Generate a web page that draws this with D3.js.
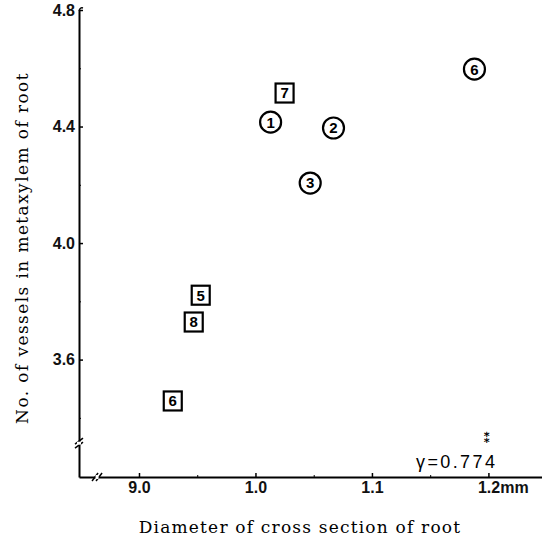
<!DOCTYPE html>
<html>
<head>
<meta charset="utf-8">
<script src="https://cdn.jsdelivr.net/npm/d3@7"></script>
<style>
  body { margin: 0; background: #fff; }
  svg { display: block; }
  .tick text { font-family: "Liberation Sans", Arial, sans-serif; font-size: 16px; font-weight: bold; fill: #111; }
</style>
</head>
<body>
<script>
    "use strict";
    const width = 542;
    const height = 541;

    // data
    const pointIds = ["1", "2", "3", "6", "7", "5", "8", "6"];
    const pointShapes = ["circle", "circle", "circle", "circle", "square", "square", "square", "square"];
    const diameters = [1.013, 1.067, 1.047, 1.188, 1.025, 0.953, 0.947, 0.929];
    const vessels = [4.415, 4.395, 4.206, 4.597, 4.515, 3.821, 3.729, 3.458];

    const xTicks = [0.9, 1.0, 1.1, 1.2];
    const xTickLabels = ["9.0", "1.0", "1.1", "1.2mm"];
    const xMinor = [0.95, 1.05, 1.15];
    const yTicks = [3.6, 4.0, 4.4, 4.8];
    const yTickLabels = ["3.6", "4.0", "4.4", "4.8"];
    const yMinor = [3.4, 3.8, 4.2, 4.6];
    const xBreak = 0.864;
    const yBreak = 3.313;

    const svg = d3.select("body").append("svg")
        .attr("width", width).attr("height", height);

    const xScale = d3.scaleLinear().domain([0.8485, 1.246]).range([79, 542]);
    const yScale = d3.scaleLinear().domain([3.197, 4.8]).range([477, 10]);
    const x0 = xScale(0.8485);
    const y0 = yScale(3.197);

    // x axis
    let xAxis = d3.axisBottom(xScale).tickValues(xTicks)
        .tickSizeInner(-4).tickSizeOuter(0).tickPadding(5)
        .tickFormat((d, i) => xTickLabels[i]);
    let gx = svg.append("g").attr("transform", "translate(0," + y0 + ")").call(xAxis);
    gx.select(".domain").attr("stroke-width", 2);
    gx.selectAll(".tick line").attr("stroke-width", 1.5);
    gx.selectAll(".tick text").filter((d, i) => i === 3)
        .attr("text-anchor", "start").attr("x", -11);
    let xMinorAxis = d3.axisBottom(xScale).tickValues(xMinor)
        .tickSizeInner(-2).tickSizeOuter(0).tickFormat("");
    svg.append("g").attr("transform", "translate(0," + y0 + ")").call(xMinorAxis)
        .select(".domain").remove();

    // y axis
    let yAxis = d3.axisLeft(yScale).tickValues(yTicks)
        .tickSizeInner(-4).tickSizeOuter(0).tickPadding(4)
        .tickFormat((d, i) => yTickLabels[i]);
    let gy = svg.append("g").attr("transform", "translate(" + x0 + ",0)").call(yAxis);
    gy.select(".domain").attr("stroke-width", 2);
    gy.selectAll(".tick line").attr("stroke-width", 1.5);
    let yMinorAxis = d3.axisLeft(yScale).tickValues(yMinor)
        .tickSizeInner(-2).tickSizeOuter(0).tickFormat("");
    svg.append("g").attr("transform", "translate(" + x0 + ",0)").call(yMinorAxis)
        .select(".domain").remove();

    // hook at the top of the y axis
    svg.append("path")
        .attr("d", "M" + x0 + "," + (yScale(4.8) + 1) + " q1,-4 4,-3")
        .attr("fill", "none").attr("stroke", "#000").attr("stroke-width", 1.5);

    // axis breaks
    const by = yScale(yBreak);
    [-2, 2].forEach(off => {
        svg.append("line")
            .attr("x1", x0 - 4).attr("y1", by + off + 3)
            .attr("x2", x0 + 4).attr("y2", by + off - 3)
            .attr("stroke", "#000").attr("stroke-width", 1.5);
    });
    svg.append("rect").attr("x", x0 - 2).attr("y", by - 1.5).attr("width", 4).attr("height", 3)
        .attr("fill", "#fff");
    const bx = xScale(xBreak);
    [-2, 2].forEach(off => {
        svg.append("line")
            .attr("x1", bx + off - 3).attr("y1", y0 + 4)
            .attr("x2", bx + off + 3).attr("y2", y0 - 4)
            .attr("stroke", "#000").attr("stroke-width", 1.5);
    });
    svg.append("rect").attr("x", bx - 1.5).attr("y", y0 - 2).attr("width", 3).attr("height", 4)
        .attr("fill", "#fff");

    // points
    const pts = svg.selectAll(".pt").data(pointIds).enter().append("g").attr("class", "pt")
        .attr("transform", (d, i) => "translate(" + xScale(diameters[i]) + "," + yScale(vessels[i]) + ")");
    pts.filter((d, i) => pointShapes[i] === "circle").append("circle")
        .attr("r", 10.5).attr("fill", "#fff").attr("stroke", "#000").attr("stroke-width", 2.2);
    pts.filter((d, i) => pointShapes[i] === "square").append("rect")
        .attr("x", -9).attr("y", -9.5).attr("width", 18).attr("height", 19)
        .attr("fill", "#fff").attr("stroke", "#000").attr("stroke-width", 2.2);
    pts.append("text").attr("text-anchor", "middle").attr("dy", "0.36em")
        .style("font-family", "Liberation Sans, Arial, sans-serif").style("font-size", "15px")
        .style("font-weight", "bold").text(d => d);

    // axis titles
    svg.append("text").attr("x", 300).attr("y", 533).style("text-anchor", "middle")
        .style("font-family", "DejaVu Serif, serif").style("font-size", "17px")
        .style("letter-spacing", "1.2px")
        .text("Diameter of cross section of root");
    svg.append("text").attr("transform", "translate(28,248) rotate(-90)").style("text-anchor", "middle")
        .style("font-family", "DejaVu Serif, serif").style("font-size", "17px")
        .style("letter-spacing", "1.4px")
        .text("No. of vessels in metaxylem of root");

    // correlation note
    svg.append("text").attr("x", 416).attr("y", 468)
        .style("font-family", "Liberation Sans, Arial, sans-serif").style("font-size", "18px")
        .style("letter-spacing", "2.4px")
        .text("γ=0.774");
    svg.append("text").attr("x", 487).attr("y", 443).style("text-anchor", "middle")
        .style("font-family", "DejaVu Sans, sans-serif").style("font-size", "14px")
        .style("font-weight", "bold")
        .text("⁑");
</script>
</body>
</html>
